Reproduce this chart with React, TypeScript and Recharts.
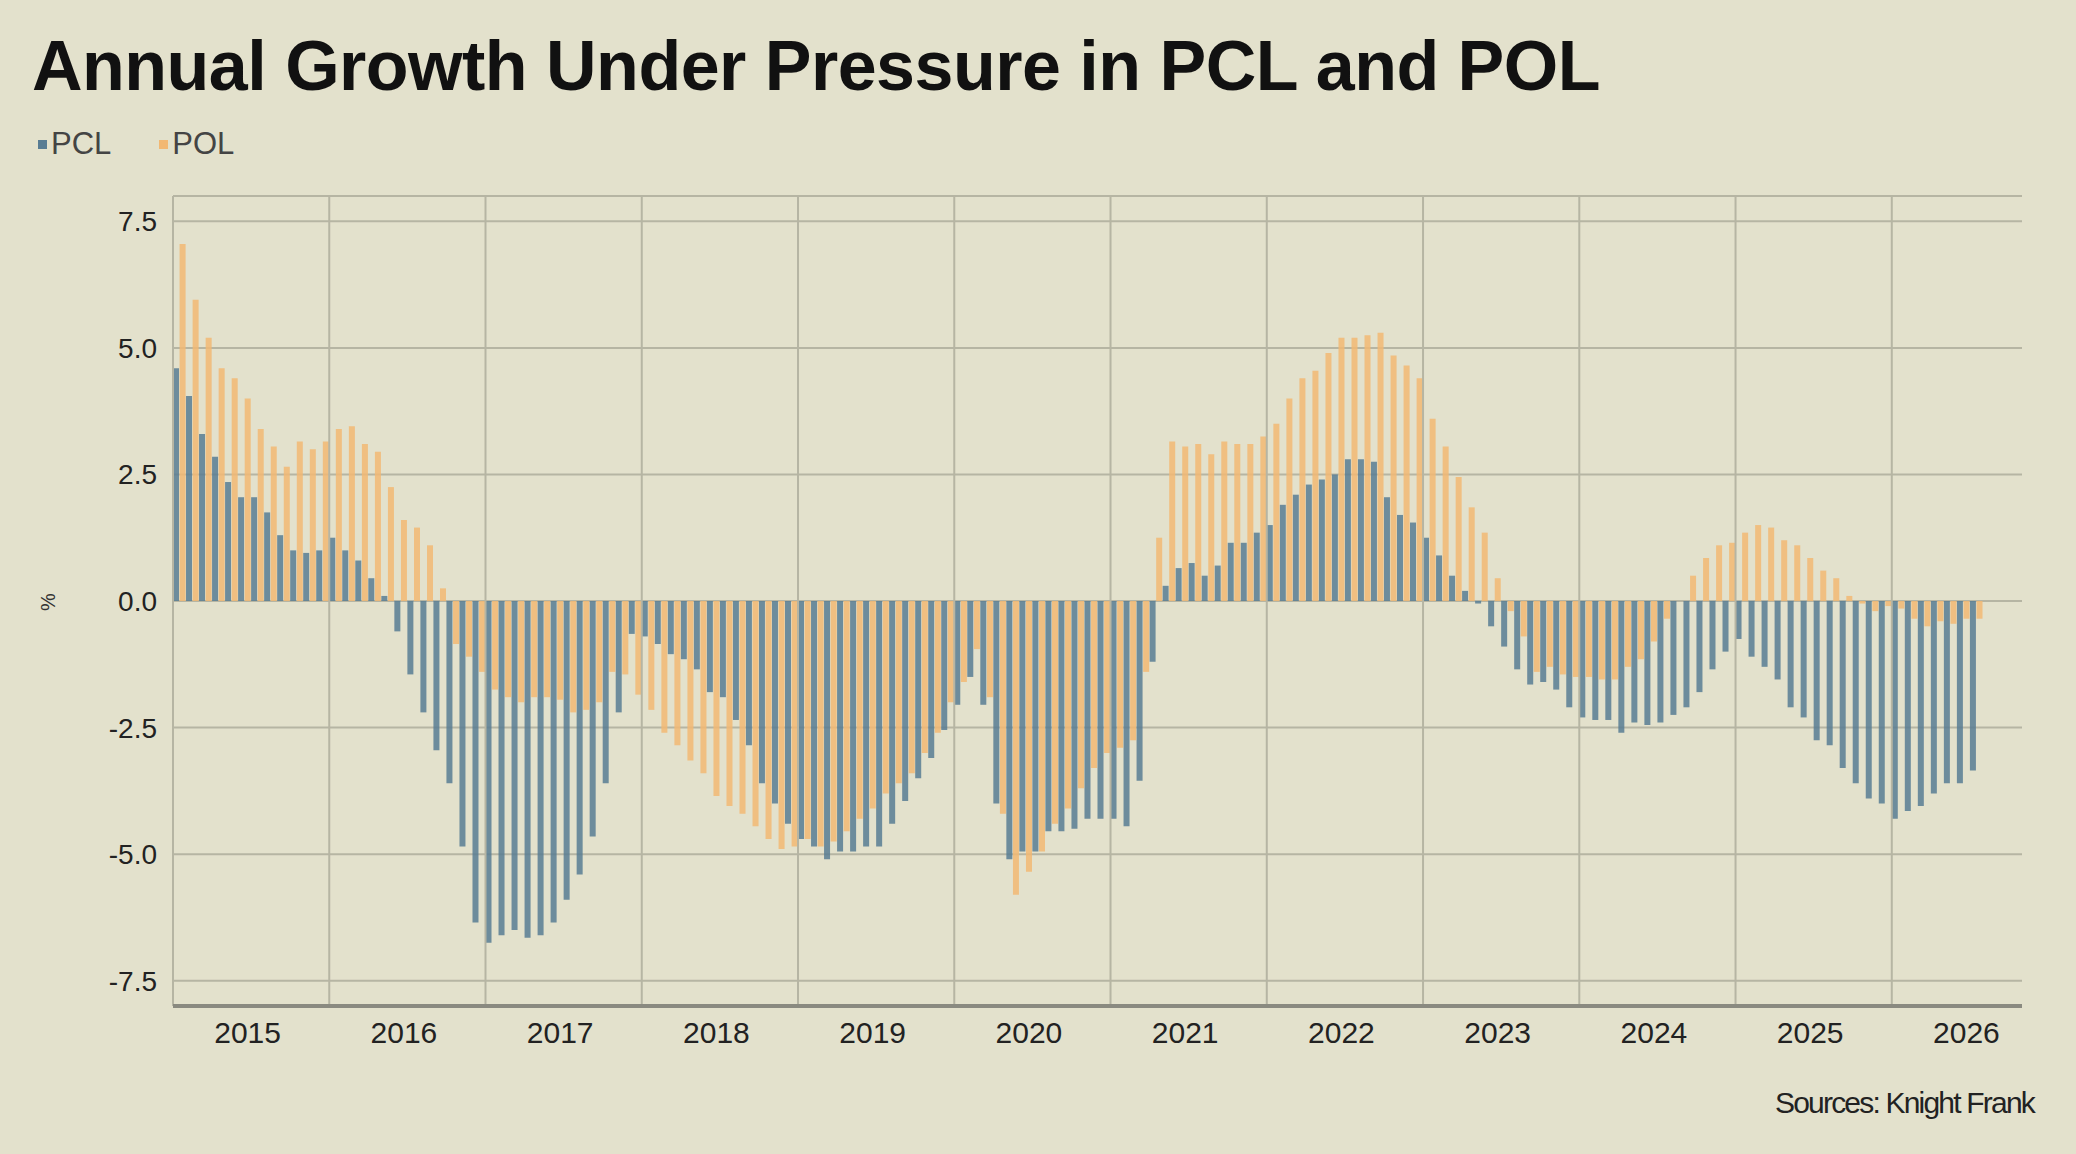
import React from "react";
import { BarChart, Bar, XAxis, YAxis, CartesianGrid, ReferenceLine } from "recharts";

const years = [2015, 2016, 2017, 2018, 2019, 2020, 2021, 2022, 2023, 2024, 2025, 2026];
const yTicks = [-7.5, -5, -2.5, 0, 2.5, 5, 7.5];

const pcl = [
  4.6, 4.05, 3.3, 2.85, 2.35, 2.05, 2.05, 1.75, 1.3, 1.0, 0.95, 1.0,
  1.25, 1.0, 0.8, 0.45, 0.1, -0.6, -1.45, -2.2, -2.95, -3.6, -4.85, -6.35,
  -6.75, -6.6, -6.5, -6.65, -6.6, -6.35, -5.9, -5.4, -4.65, -3.6, -2.2, -0.65,
  -0.7, -0.85, -1.05, -1.15, -1.35, -1.8, -1.9, -2.35, -2.85, -3.6, -4.0, -4.4,
  -4.7, -4.85, -5.1, -4.95, -4.95, -4.85, -4.85, -4.4, -3.95, -3.5, -3.1, -2.55,
  -2.05, -1.5, -2.05, -4.0, -5.1, -4.95, -4.95, -4.55, -4.55, -4.5, -4.3, -4.3,
  -4.3, -4.45, -3.55, -1.2, 0.3, 0.65, 0.75, 0.5, 0.7, 1.15, 1.15, 1.35,
  1.5, 1.9, 2.1, 2.3, 2.4, 2.5, 2.8, 2.8, 2.75, 2.05, 1.7, 1.55,
  1.25, 0.9, 0.5, 0.2, -0.05, -0.5, -0.9, -1.35, -1.65, -1.6, -1.75, -2.1,
  -2.3, -2.35, -2.35, -2.6, -2.4, -2.45, -2.4, -2.25, -2.1, -1.8, -1.35, -1.0,
  -0.75, -1.1, -1.3, -1.55, -2.1, -2.3, -2.75, -2.85, -3.3, -3.6, -3.9, -4.0,
  -4.3, -4.15, -4.05, -3.8, -3.6, -3.6, -3.35,
];

const pol = [
  7.05, 5.95, 5.2, 4.6, 4.4, 4.0, 3.4, 3.05, 2.65, 3.15, 3.0, 3.15,
  3.4, 3.45, 3.1, 2.95, 2.25, 1.6, 1.45, 1.1, 0.25, -0.85, -1.1, -1.4,
  -1.75, -1.9, -2.0, -1.9, -1.9, -1.95, -2.2, -2.15, -2.0, -1.4, -1.45, -1.85,
  -2.15, -2.6, -2.85, -3.15, -3.4, -3.85, -4.05, -4.2, -4.45, -4.7, -4.9, -4.85,
  -4.7, -4.85, -4.75, -4.55, -4.3, -4.1, -3.8, -3.6, -3.4, -3.0, -2.6, -2.0,
  -1.6, -0.95, -1.9, -4.2, -5.8, -5.35, -4.95, -4.4, -4.1, -3.7, -3.3, -3.0,
  -2.9, -2.75, -1.4, 1.25, 3.15, 3.05, 3.1, 2.9, 3.15, 3.1, 3.1, 3.25,
  3.5, 4.0, 4.4, 4.55, 4.9, 5.2, 5.2, 5.25, 5.3, 4.85, 4.65, 4.4,
  3.6, 3.05, 2.45, 1.85, 1.35, 0.45, -0.2, -0.7, -1.4, -1.3, -1.45, -1.5,
  -1.5, -1.55, -1.55, -1.3, -1.15, -0.8, -0.35, 0, 0.5, 0.85, 1.1, 1.15,
  1.35, 1.5, 1.45, 1.2, 1.1, 0.85, 0.6, 0.45, 0.1, -0.05, -0.2, -0.1,
  -0.15, -0.35, -0.5, -0.4, -0.45, -0.35, -0.35,
];

const TOTAL_MONTHS = 142;
const data = Array.from({ length: TOTAL_MONTHS }, (_, i) => ({
  month: `${2015 + Math.floor(i / 12)}-${String((i % 12) + 1).padStart(2, "0")}`,
  PCL: i < pcl.length ? pcl[i] : null,
  POL: i < pol.length ? pol[i] : null,
}));

const xTicks = years.map((y) => `${y}-07`);
const janLines = years.map((y) => `${y}-01`);

const BG = "#e3e1cc";
const GRID = "#b6b5a3";
const BLUE = "#587c93";
const ORANGE = "#f2b873";
const font = "'Liberation Sans', Arial, sans-serif";

export default function App() {
  return (
    <div style={{ position: "absolute", left: 0, top: 0, width: 2076, height: 1154, background: BG, fontFamily: font, overflow: "hidden" }}>
      <div style={{ position: "absolute", left: 32, top: 26, fontSize: 70, fontWeight: 700, color: "#111", letterSpacing: -0.5 }}>
        Annual Growth Under Pressure in PCL and POL
      </div>
      <div style={{ position: "absolute", left: 38, top: 126, fontSize: 31, color: "#444", display: "flex", alignItems: "center" }}>
        <span style={{ width: 9, height: 9, background: BLUE, display: "inline-block", marginRight: 4 }} />
        <span>PCL</span>
        <span style={{ width: 9, height: 9, background: ORANGE, display: "inline-block", marginLeft: 48, marginRight: 4 }} />
        <span>POL</span>
      </div>
      <div style={{ position: "absolute", left: 48, top: 602, transform: "translate(-50%,-50%) rotate(-90deg)", fontSize: 20, color: "#333" }}>%</div>
      <div style={{ position: "absolute", right: 42, top: 1086, fontSize: 30, color: "#222", letterSpacing: -1.8 }}>Sources: Knight Frank</div>
      <BarChart
        width={2076}
        height={1154}
        data={data}
        margin={{ top: 196, right: 54, bottom: 98, left: 103 }}
        barSize={6}
        barGap={0.6}
        style={{ position: "absolute", left: 0, top: 0 }}
      >
        <CartesianGrid vertical={false} stroke={GRID} strokeWidth={2} />
        {janLines.map((m) => (
          <ReferenceLine key={m} x={m} position="start" stroke={GRID} strokeWidth={2} />
        ))}
        <XAxis
          dataKey="month"
          ticks={xTicks}
          interval={0}
          tickFormatter={(v: string) => v.slice(0, 4)}
          tickLine={false}
          axisLine={{ stroke: "#8a8a80", strokeWidth: 4 }}
          height={50}
          tick={{ fontSize: 30, fill: "#222", fontFamily: font, dx: -10, dy: 8 }}
        />
        <YAxis
          domain={[-8, 8]}
          ticks={yTicks}
          width={70}
          tickLine={false}
          axisLine={false}
          tickFormatter={(v: number) => v.toFixed(1)}
          tick={{ fontSize: 28, fill: "#222", fontFamily: font, dx: -8 }}
        />
        <Bar dataKey="PCL" fill={BLUE} fillOpacity={0.85} isAnimationActive={false} />
        <Bar dataKey="POL" fill={ORANGE} fillOpacity={0.85} isAnimationActive={false} />
      </BarChart>
    </div>
  );
}
